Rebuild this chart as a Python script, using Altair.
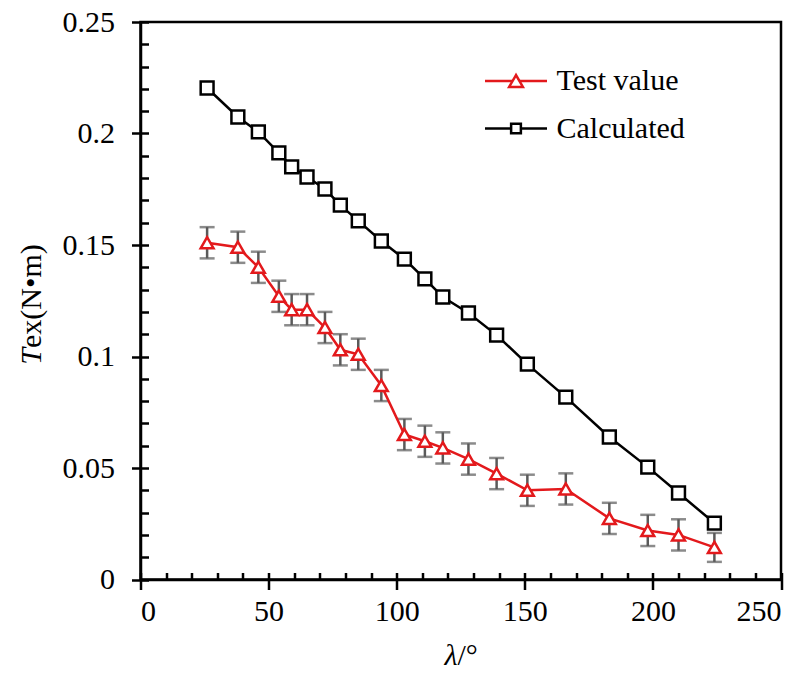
import altair as alt
import pandas as pd

# ---- data ----
angle = [26, 38, 46, 54, 59, 65, 72, 78, 85, 94, 103, 111, 118, 128, 139, 151, 166, 183, 198, 210, 224]
test_value = [0.151, 0.149, 0.140, 0.127, 0.121, 0.121, 0.113, 0.103, 0.101, 0.087, 0.065,
              0.062, 0.059, 0.054, 0.0475, 0.040, 0.0406, 0.0274, 0.022, 0.020, 0.0144]
test_err = [0.007, 0.007, 0.007, 0.007, 0.007, 0.007, 0.007, 0.007, 0.007, 0.007, 0.007,
            0.007, 0.007, 0.007, 0.007, 0.007, 0.007, 0.007, 0.007, 0.007, 0.0065]
calculated = [0.2204, 0.2074, 0.2007, 0.1913, 0.1850, 0.1805, 0.1751, 0.1679, 0.1608, 0.1518, 0.1437,
              0.1348, 0.1267, 0.1195, 0.1096, 0.0966, 0.0818, 0.0639, 0.0504, 0.0388, 0.0253]
series_names = ["Test value", "Calculated"]
series_colors = ["#e3191c", "#000000"]
series_shapes = ["triangle-up", "square"]
x_major = [0, 50, 100, 150, 200, 250]
x_minor = [0, 10, 20, 30, 40, 50, 60, 70, 80, 90, 100, 110, 120, 130, 140, 150, 160, 170, 180, 190,
           200, 210, 220, 230, 240, 250]
y_major = [0, 0.05, 0.1, 0.15, 0.2, 0.25]
y_minor = [0, 0.01, 0.02, 0.03, 0.04, 0.05, 0.06, 0.07, 0.08, 0.09, 0.1, 0.11, 0.12, 0.13, 0.14, 0.15,
           0.16, 0.17, 0.18, 0.19, 0.2, 0.21, 0.22, 0.23, 0.24, 0.25]

W, H = 640.5, 557.5
FONT = "Liberation Serif"
FS = 30

rows = []
for a, v, e in zip(angle, test_value, test_err):
    rows.append({"angle": a, "value": v, "series": series_names[0], "lo": v - e, "hi": v + e})
for a, v in zip(angle, calculated):
    rows.append({"angle": a, "value": v, "series": series_names[1], "lo": None, "hi": None})
df = pd.DataFrame(rows)
err_df = df[df["series"] == series_names[0]]

xs = alt.Scale(domain=[0, 250], nice=False, zero=False)
ys = alt.Scale(domain=[0, 0.25], nice=False, zero=False)

axis_common = dict(domainColor="black", domainWidth=2.5, tickColor="black", tickWidth=2.5,
                   grid=False, labelFont=FONT, labelColor="black", labelFontSize=FS, title=None)

x_main_axis = alt.Axis(values=x_major, tickSize=10, labelPadding=7, format="d", **axis_common)
y_main_axis = alt.Axis(values=y_major, tickSize=9, labelPadding=17, format="~g", **axis_common)
x_in_axis = alt.Axis(orient="top", offset=-H, values=x_minor, tickSize=7, labels=False, domain=False,
                     tickColor="black", tickWidth=2.5, grid=False, title=None)
y_in_axis = alt.Axis(orient="right", offset=-W, values=y_minor, tickSize=8, labels=False, domain=False,
                     tickColor="black", tickWidth=2.5, grid=False, title=None)

stroke_scale = alt.Scale(domain=series_names, range=series_colors)

err_rule = alt.Chart(err_df).mark_rule(color="#5a5a5a", strokeWidth=2.5).encode(
    x=alt.X("angle:Q", scale=xs, axis=x_main_axis),
    y=alt.Y("lo:Q", scale=ys, axis=y_main_axis),
    y2="hi:Q",
)
cap_lo = alt.Chart(err_df).mark_tick(color="#5a5a5a", thickness=2.5, size=15, orient="horizontal").encode(
    x=alt.X("angle:Q", scale=xs, axis=None),
    y=alt.Y("lo:Q", scale=ys, axis=None),
)
cap_hi = alt.Chart(err_df).mark_tick(color="#5a5a5a", thickness=2.5, size=15, orient="horizontal").encode(
    x=alt.X("angle:Q", scale=xs, axis=None),
    y=alt.Y("hi:Q", scale=ys, axis=None),
)
lines = alt.Chart(df).mark_line(strokeWidth=2.5).encode(
    x=alt.X("angle:Q", scale=xs, axis=x_in_axis),
    y=alt.Y("value:Q", scale=ys, axis=y_in_axis),
    stroke=alt.Stroke("series:N", scale=stroke_scale, legend=None),
    detail="series:N",
)

point_layers = []
for name, col, shp in zip(series_names, series_colors, series_shapes):
    point_layers.append(
        alt.Chart(df).transform_filter(alt.datum.series == name).mark_point(
            shape=shp, filled=False, fill="white", fillOpacity=1, opacity=1,
            stroke=col, strokeWidth=2.5, size=165
        ).encode(
            x=alt.X("angle:Q", scale=xs, axis=None),
            y=alt.Y("value:Q", scale=ys, axis=None),
        )
    )

# legend drawn by hand (line + marker + label per series)
legend_sizes = [190, 95]
legend_layers = []
for i, (name, col, shp, sz) in enumerate(zip(series_names, series_colors, series_shapes, legend_sizes)):
    ly = 59 + 47.5 * i
    ldf = pd.DataFrame({"label": [name]})
    legend_layers.append(alt.Chart(ldf).mark_rule(color=col, strokeWidth=2.5).encode(
        x=alt.value(344.5), x2=alt.value(406.5), y=alt.value(ly)))
    legend_layers.append(alt.Chart(ldf).mark_point(
        shape=shp, filled=False, fill="white", fillOpacity=1, opacity=1, stroke=col,
        strokeWidth=2.5, size=sz).encode(x=alt.value(375.5), y=alt.value(ly)))
    legend_layers.append(alt.Chart(ldf).mark_text(
        font=FONT, fontSize=FS, align="left", baseline="middle", color="black").encode(
        text="label:N", x=alt.value(416), y=alt.value(ly)))

# axis titles with mixed italic parts
ytitle_a = alt.Chart(pd.DataFrame({"t": ["T"]})).mark_text(
    font=FONT, fontSize=FS, fontStyle="italic", angle=270, align="right", baseline="middle", color="black"
).encode(text="t:N", x=alt.value(-109), y=alt.value(326))
ytitle_b = alt.Chart(pd.DataFrame({"t": ["ex(N•m)"]})).mark_text(
    font=FONT, fontSize=FS, angle=270, align="left", baseline="middle", color="black"
).encode(text="t:N", x=alt.value(-109), y=alt.value(326))
xtitle_a = alt.Chart(pd.DataFrame({"t": ["λ"]})).mark_text(
    font=FONT, fontSize=FS, fontStyle="italic", align="right", baseline="middle", color="black"
).encode(text="t:N", x=alt.value(317), y=alt.value(634))
xtitle_b = alt.Chart(pd.DataFrame({"t": ["/°"]})).mark_text(
    font=FONT, fontSize=FS, align="left", baseline="middle", color="black"
).encode(text="t:N", x=alt.value(317), y=alt.value(634))

chart = alt.layer(
    err_rule, cap_lo, cap_hi, lines, *point_layers, *legend_layers,
    ytitle_a, ytitle_b, xtitle_a, xtitle_b
).resolve_axis(x="independent", y="independent").properties(
    width=W, height=H,
    padding={"left": 132.5, "top": 14, "right": 16, "bottom": 91},
    autosize=alt.AutoSizeParams(type="none"),
    background="white",
).configure_view(stroke="black", strokeWidth=2.5)

chart.save("out.html", embed_options={"renderer": "svg", "actions": False})
